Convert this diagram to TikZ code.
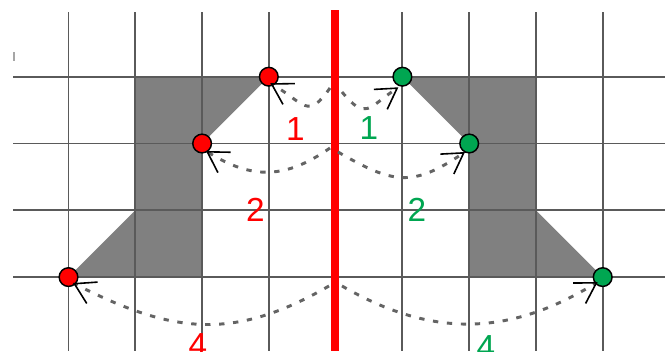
\documentclass[tikz,border=0pt]{standalone}
\usepackage{fontspec}
\setmainfont{Liberation Sans}
\usetikzlibrary{arrows.meta}
\definecolor{myred}{RGB}{255,0,0}
\definecolor{mygreen}{RGB}{0,166,81}
\definecolor{gridc}{RGB}{90,90,90}
\definecolor{shapec}{RGB}{128,128,128}
\definecolor{dashc}{RGB}{100,100,100}
\begin{document}
\begin{tikzpicture}[x=0.75pt,y=-0.75pt,
  gridline/.style={gridc, line width=1.4pt},
  shapefill/.style={fill=shapec, draw=none},
  dotbase/.style={circle, draw=black, line width=1.1pt, minimum size=14pt, inner sep=0pt},
  dotr/.style={dotbase, fill=myred},
  dotg/.style={dotbase, fill=mygreen},
  mirrorline/.style={myred, line width=5.5pt},
  arcline/.style={dashc, line width=2.2pt, dash pattern=on 4pt off 6.5pt,
    -{Straight Barb[black, line width=1.2pt, length=15pt, width=18pt]}},
  lbl/.style={font=\fontsize{25}{25}\selectfont, inner sep=0pt}]
\useasboundingbox (0,0) rectangle (665,351);
\fill[white] (0,0) rectangle (665,351);
% shapes
\fill[shapefill] (135.3,76.7) -- (268.8,76.7) -- (202.1,143.5) -- (202.1,277.1) -- (68.5,277.1) -- (135.3,210.3) -- cycle;
\fill[shapefill] (402.4,76.7) -- (536,76.7) -- (536,210.3) -- (602.7,277.1) -- (469.2,277.1) -- (469.2,143.5) -- cycle;
% grid
\foreach \x in {68.5,135.3,202.1,268.8,402.4,469.2,536,602.7}
  \draw[gridline] (\x,12) -- (\x,351);
\foreach \y in {76.7,143.5,210.3,277.1}
  \draw[gridline] (13,\y) -- (665,\y);
\draw[black!35, line width=1pt] (14,52) -- (14,61);
% mirror line
\draw[mirrorline] (335,10) -- (335,351);
% dots
\node[dotr] (r1) at (268.8,76.7) {};
\node[dotr] (r2) at (202.1,143.5) {};
\node[dotr] (r4) at (68.5,277.1) {};
\node[dotg] (g1) at (402.4,76.7) {};
\node[dotg] (g2) at (469.2,143.5) {};
\node[dotg] (g4) at (602.7,277.1) {};
% arc end points
\coordinate (sL1) at (330,88);
\coordinate (sR1) at (342,92);
\coordinate (sL2) at (330,148);
\coordinate (sR2) at (338,152);
\coordinate (sL4) at (329,286);
\coordinate (sR4) at (342,286);
\coordinate (tL1) at (270.3,83.2);
\coordinate (tR1) at (398.4,87.3);
\coordinate (tL2) at (206,151);
\coordinate (tR2) at (465,152);
\coordinate (tL4) at (73,283);
\coordinate (tR4) at (597.7,282);
% arcs
\draw[arcline] (sL1) to[out=-125,in=-30,looseness=1.7] (tL1);
\draw[arcline] (sR1) to[out=-50,in=-146,looseness=1.7] (tR1);
\draw[arcline] (sL2) to[out=-145,in=-32,looseness=1.12] (tL2);
\draw[arcline] (sR2) to[out=-30,in=-146,looseness=1.29] (tR2);
\draw[arcline] (sL4) to[out=-150,in=-27,looseness=1.11] (tL4);
\draw[arcline] (sR4) to[out=-30,in=-148.5,looseness=1.04] (tR4);
% labels
\node[lbl, text=myred] (n1r) at (295.5,129) {1};
\node[lbl, text=mygreen] (n1g) at (369,128.5) {1};
\node[lbl, text=myred] (n2r) at (255.5,210) {2};
\node[lbl, text=mygreen] (n2g) at (417,210) {2};
\node[lbl, text=myred] (n4r) at (198,345) {4};
\node[lbl, text=mygreen] (n4g) at (486,347) {4};
\end{tikzpicture}
\end{document}
